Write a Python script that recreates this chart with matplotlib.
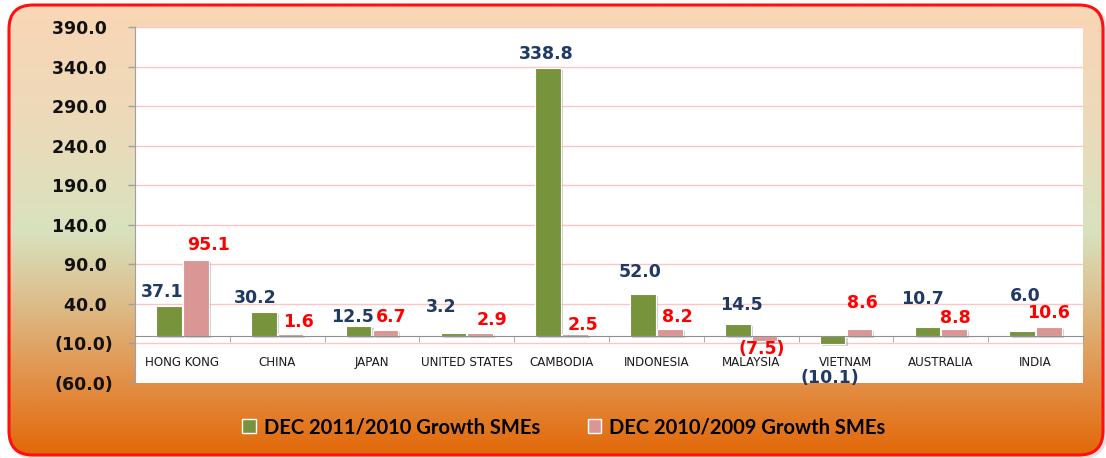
import numpy as np
import matplotlib
matplotlib.use('Agg')
import matplotlib.pyplot as plt
from matplotlib.patches import FancyBboxPatch, Patch
import matplotlib.patheffects as pe
from matplotlib.ticker import FixedLocator, FuncFormatter

# ---------------- data ----------------
categories = ["HONG KONG", "CHINA", "JAPAN", "UNITED STATES", "CAMBODIA",
              "INDONESIA", "MALAYSIA", "VIETNAM", "AUSTRALIA", "INDIA"]
growth_2011 = [37.1, 30.2, 12.5, 3.2, 338.8, 52.0, 14.5, -10.1, 10.7, 6.0]
growth_2010 = [95.1, 1.6, 6.7, 2.9, 2.5, 8.2, -7.5, 8.6, 8.8, 10.6]
series_names = ["DEC 2011/2010 Growth SMEs", "DEC 2010/2009 Growth SMEs"]
y_ticks = [-60, -10, 40, 90, 140, 190, 240, 290, 340, 390]

# ---------------- style / layout ----------------
W, H = 1106, 458
GREEN = "#77933C"
PINK = "#D99694"
LBL_GREEN = "#1F3A64"
LBL_PINK = "#FF0000"
# label offsets from bar end, in pixels (dx, dy; dy>0 = up)
off_2011 = [(-7, 14.5), (-9, 13.5), (-6, 9), (-12, 26), (-2, 14), (-3, 22),
            (4, 19), (-3, -34), (-5, 28), (3, 35)]
off_2010 = [(13, 15), (8, 12.5), (6, 13.5), (11.5, 13), (8, 8.5), (8, 12),
            (-3, -7.5), (3, 25.5), (1, 10.5), (0, 14.5)]

fig = plt.figure(figsize=(W / 100, H / 100), dpi=100)
fig.patch.set_facecolor("white")

# background gradient within rounded border
bg = fig.add_axes([0, 0, 1, 1], zorder=-5)
bg.set_xlim(0, W)
bg.set_ylim(H, 0)
bg.axis("off")
stops_y = [5, 120, 230, 300, 390, 455]
stops_c = np.array([(249, 214, 182), (236, 218, 185), (216, 226, 190),
                    (221, 190, 140), (226, 140, 65), (226, 105, 10)]) / 255.0
yy = np.arange(H)
grad = np.stack([np.interp(yy, stops_y, stops_c[:, k]) for k in range(3)], axis=-1)
grad = np.repeat(grad[:, None, :], 2, axis=1)
frame = FancyBboxPatch((9, 5), 1094, 450, boxstyle="round,pad=0,rounding_size=24",
                       facecolor="none", edgecolor="#FF1010", linewidth=2.2,
                       transform=bg.transData, zorder=3)
shadow = FancyBboxPatch((11, 7), 1094, 450, boxstyle="round,pad=0,rounding_size=24",
                        facecolor="none", edgecolor=(0, 0, 0, 0.12), linewidth=3,
                        transform=bg.transData, zorder=1)
bg.add_patch(shadow)
im = bg.imshow(grad, extent=(9, 1103, 455, 5), aspect="auto", zorder=2)
clip = FancyBboxPatch((9, 5), 1094, 450, boxstyle="round,pad=0,rounding_size=24",
                      transform=bg.transData, facecolor="none", edgecolor="none")
bg.add_patch(clip)
im.set_clip_path(clip)
bg.add_patch(frame)

# main axes
ax = fig.add_axes([135 / W, 1 - 383 / H, (1083 - 135) / W, (383 - 27) / H])
ax.set_facecolor("white")
x = np.arange(len(categories))
bw = 0.27
off = 0.141
shadow_fx = [pe.SimplePatchShadow(offset=(1.5, -1.5), shadow_rgbFace="gray", alpha=0.35), pe.Normal()]
b1 = ax.bar(x - off, growth_2011, bw, color=GREEN, edgecolor="white", linewidth=0.8,
            zorder=3, label=series_names[0])
b2 = ax.bar(x + off, growth_2010, bw, color=PINK, edgecolor="white", linewidth=0.8,
            zorder=3, label=series_names[1])
for b in list(b1) + list(b2):
    b.set_path_effects(shadow_fx)

ax.set_xlim(-0.5, len(categories) - 0.5)
ax.set_ylim(-60, 390)


def fmt(v):
    return f"({abs(v):.1f})" if v < 0 else f"{v:.1f}"


for xi, v, (dx, dy) in zip(x - off, growth_2011, off_2011):
    ax.annotate(fmt(v), (xi, v), xytext=(dx * 0.72, dy * 0.72), textcoords="offset points",
                ha="center", va="center", fontsize=12.5, fontweight="bold", color=LBL_GREEN,
                zorder=5, annotation_clip=False)
for xi, v, (dx, dy) in zip(x + off, growth_2010, off_2010):
    ax.annotate(fmt(v), (xi, v), xytext=(dx * 0.72, dy * 0.72), textcoords="offset points",
                ha="center", va="center", fontsize=12.5, fontweight="bold", color=LBL_PINK,
                zorder=5, annotation_clip=False)

# y axis
ax.yaxis.set_major_locator(FixedLocator(y_ticks))
ax.yaxis.set_major_formatter(FuncFormatter(lambda v, p: f"({abs(v):.1f})" if v < 0 else f"{v:.1f} "))
ax.tick_params(axis="y", length=5, width=1, color="#A0A0A0", pad=11, labelsize=12.5,
               labelcolor="#111111")
for t in ax.get_yticklabels():
    t.set_fontweight("bold")
ax.yaxis.grid(True, color="#FFC4C4", linewidth=1, zorder=0)
ax.set_axisbelow(True)
ax.get_ygridlines()[0].set_visible(False)

# x axis at zero
ax.spines["bottom"].set_position(("data", 0))
ax.spines["bottom"].set_color("#909090")
ax.spines["bottom"].set_zorder(4)
ax.spines["left"].set_color("#A0A0A0")
ax.spines["top"].set_visible(False)
ax.spines["right"].set_visible(False)
ax.set_xticks(x)
ax.set_xticklabels(categories)
ax.set_xticks(np.arange(len(categories) + 1) - 0.5, minor=True)
ax.tick_params(axis="x", which="major", length=0, pad=15, labelsize=8.6, labelcolor="#1A1A1A")
ax.tick_params(axis="x", which="minor", length=4, color="#A0A0A0", direction="out")

# legend
handles = [Patch(facecolor=GREEN, edgecolor="white", linewidth=1),
           Patch(facecolor=PINK, edgecolor="white", linewidth=1)]
fig.legend(handles, series_names, loc="center", bbox_to_anchor=(564 / W, 1 - 427 / H),
           ncol=2, frameon=False, handlelength=0.65, handleheight=0.75, handletextpad=0.4,
           columnspacing=2.4, prop={"family": "Lato", "weight": "bold", "size": 14.5})

fig.savefig("out.png", dpi=100)
